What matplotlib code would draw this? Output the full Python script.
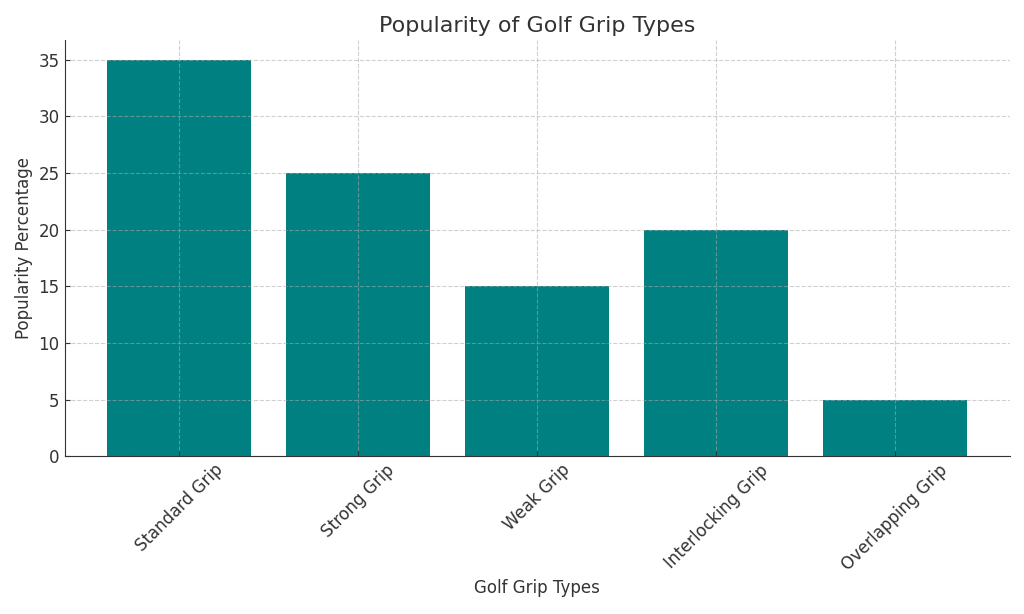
import matplotlib
matplotlib.use("Agg")
import matplotlib.pyplot as plt

# Data
grip_types = ["Standard Grip", "Strong Grip", "Weak Grip", "Interlocking Grip", "Overlapping Grip"]
popularity = [35, 25, 15, 20, 5]

plt.rcParams['font.family'] = ['DejaVu Sans']
text_color = '#333333'

fig, ax = plt.subplots(figsize=(10.24, 6.14), dpi=100)
fig.subplots_adjust(left=0.063, right=0.986, bottom=0.257, top=0.935)

ax.bar(grip_types, popularity, color='teal', width=0.8, zorder=2)

ax.set_title('Popularity of Golf Grip Types', fontsize=16, color=text_color)
ax.set_xlabel('Golf Grip Types', fontsize=12, color=text_color)
ax.set_ylabel('Popularity Percentage', fontsize=12, color=text_color)

ax.tick_params(axis='x', labelrotation=45, labelsize=12, colors=text_color, direction='in')
ax.tick_params(axis='y', labelsize=12, colors=text_color, direction='in')

# grid drawn on top of the bars, as in the reference
ax.set_axisbelow(False)
ax.grid(True, linestyle='--', color='#aaaaaa', alpha=0.55, linewidth=0.8, zorder=3)
ax.spines['top'].set_visible(False)
ax.spines['right'].set_visible(False)
ax.spines['left'].set_color(text_color)
ax.spines['bottom'].set_color(text_color)

plt.savefig('out.png', dpi=100)
